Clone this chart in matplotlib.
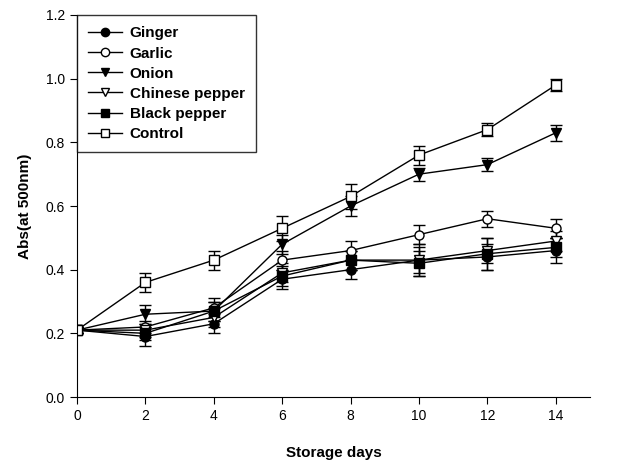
import matplotlib
matplotlib.use("Agg")
import matplotlib.pyplot as plt
from matplotlib.lines import Line2D

plt.rcParams['font.family'] = ['Liberation Sans', 'DejaVu Sans']

days = [0, 2, 4, 6, 8, 10, 12, 14]
ginger = [0.21, 0.19, 0.23, 0.37, 0.40, 0.43, 0.44, 0.46]
garlic = [0.21, 0.22, 0.28, 0.43, 0.46, 0.51, 0.56, 0.53]
onion = [0.21, 0.26, 0.27, 0.48, 0.60, 0.70, 0.73, 0.83]
chinese = [0.21, 0.21, 0.25, 0.39, 0.43, 0.43, 0.46, 0.49]
black = [0.21, 0.20, 0.27, 0.38, 0.43, 0.42, 0.45, 0.47]
control = [0.21, 0.36, 0.43, 0.53, 0.63, 0.76, 0.84, 0.98]
err_ginger = [0.01, 0.03, 0.03, 0.03, 0.03, 0.05, 0.04, 0.04]
err_garlic = [0.01, 0.02, 0.03, 0.03, 0.03, 0.03, 0.025, 0.03]
err_onion = [0.01, 0.03, 0.03, 0.03, 0.03, 0.02, 0.02, 0.025]
err_chinese = [0.01, 0.02, 0.03, 0.03, 0.03, 0.04, 0.04, 0.03]
err_black = [0.01, 0.02, 0.03, 0.03, 0.03, 0.04, 0.05, 0.03]
err_control = [0.01, 0.03, 0.03, 0.04, 0.04, 0.03, 0.02, 0.02]

labels = ['Ginger', 'Garlic', 'Onion', 'Chinese pepper', 'Black pepper', 'Control']
series = [ginger, garlic, onion, chinese, black, control]
errs = [err_ginger, err_garlic, err_onion, err_chinese, err_black, err_control]
markers = ['o', 'o', 'v', 'v', 's', 's']
fills = ['black', 'white', 'black', 'white', 'black', 'white']

fig = plt.figure(figsize=(6.17, 4.61), dpi=100)
ax = fig.add_axes([77 / 617, 1 - 397 / 461, (590 - 77) / 617, (397 - 15) / 461])

handles = []
for y, e, m, f, lab in zip(series, errs, markers, fills, labels):
    ax.errorbar(days, y, yerr=e, marker=m, color='black', mfc=f, mec='black',
                ms=6.5, lw=1, elinewidth=1, capsize=4, capthick=1)
    handles.append(Line2D([], [], marker=m, color='black', mfc=f, mec='black',
                          ms=6, lw=1, label=lab))

ax.set_xlim(0, 15)
ax.set_ylim(0, 1.2)
ax.set_xticks(days)
ax.set_yticks([0.0, 0.2, 0.4, 0.6, 0.8, 1.0, 1.2])
ax.set_yticklabels(['0.0', '0.2', '0.4', '0.6', '0.8', '1.0', '1.2'])
ax.spines['top'].set_visible(False)
ax.spines['right'].set_visible(False)
ax.tick_params(direction='out', length=5, labelsize=10)
ax.set_xlabel('Storage days', fontsize=11, fontweight='bold', labelpad=17)
ax.set_ylabel('Abs(at 500nm)', fontsize=11, fontweight='bold', labelpad=10)

leg = ax.legend(handles=handles, loc='upper left', bbox_to_anchor=(0, 1),
                borderaxespad=0, frameon=True, fancybox=False,
                edgecolor='black', prop={'weight': 'bold', 'size': 11},
                handlelength=2.2, handletextpad=0.5, labelspacing=0.4,
                borderpad=0.75, numpoints=1)
leg.get_frame().set_linewidth(1)

fig.savefig('out.png', dpi=100)
